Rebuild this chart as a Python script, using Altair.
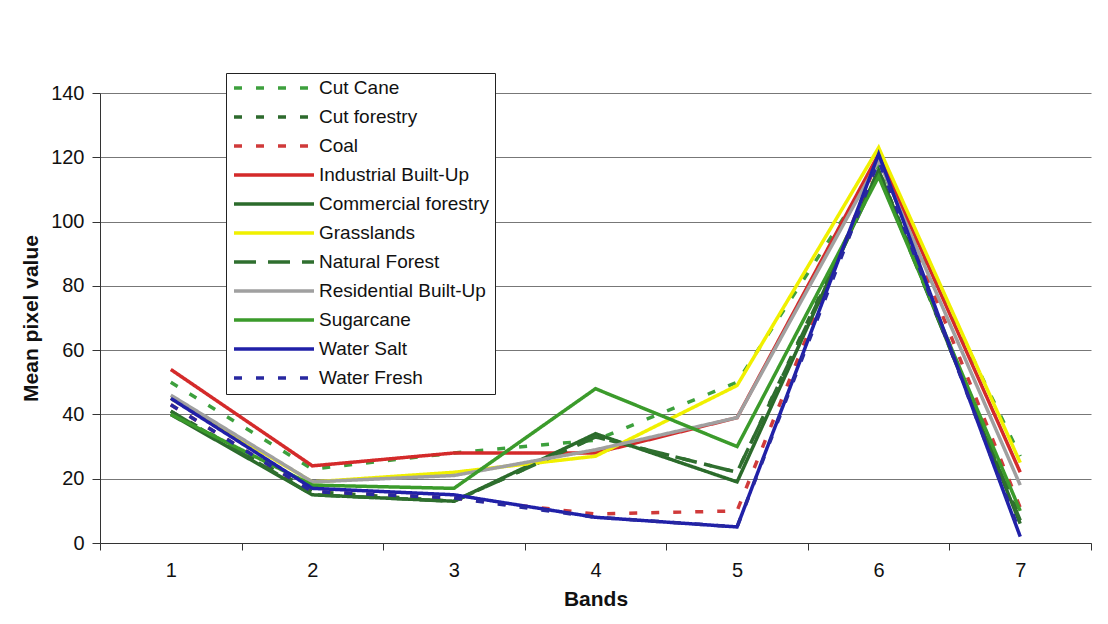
import altair as alt
import pandas as pd

bands = [1, 2, 3, 4, 5, 6, 7]
series = ["Cut Cane", "Cut forestry", "Coal", "Industrial Built-Up", "Commercial forestry",
          "Grasslands", "Natural Forest", "Residential Built-Up", "Sugarcane", "Water Salt", "Water Fresh"]

cut_cane = [50, 23, 28, 32, 50, 118, 27]
cut_forestry = [41, 16, 13, 33, 22, 116, 8]
coal = [43, 16, 14, 9, 10, 120, 11]
industrial = [54, 24, 28, 28, 39, 121, 22]
commercial = [40, 15, 13, 34, 19, 116, 6]
grasslands = [45, 19, 22, 27, 49, 123, 25]
natural_forest = [41, 15, 13, 33, 22, 115, 7]
residential = [46, 19, 21, 29, 39, 119, 18]
sugarcane = [40, 18, 17, 48, 30, 114, 10]
water_salt = [45, 17, 15, 8, 5, 121, 2]
water_fresh = [43, 16, 14, 8, 5, 119, 3]

values = [cut_cane, cut_forestry, coal, industrial, commercial, grasslands,
          natural_forest, residential, sugarcane, water_salt, water_fresh]

colors = ["#3da03d", "#2d6a2d", "#d03a3a", "#d42a2a", "#2b6b2b", "#f0f000",
          "#2f6f2f", "#a0a0a0", "#3b9b2b", "#2020a8", "#2828a0"]
dashes = [[8, 14], [8, 14], [8, 14], [1, 0], [1, 0], [1, 0],
          [22, 12], [1, 0], [1, 0], [1, 0], [8, 14]]

rows = []
for s, vals in zip(series, values):
    for b, v in zip(bands, vals):
        rows.append({"Band": b, "Series": s, "Value": v})
df = pd.DataFrame(rows)

FONT = "Liberation Sans"

chart = alt.Chart(df).mark_line(strokeWidth=3.5).encode(
    x=alt.X("Band:O",
            bandPosition=0.5,
            scale=alt.Scale(type="band", paddingInner=0, paddingOuter=0),
            axis=alt.Axis(title="Bands", labelAngle=0, tickBand="extent", grid=False,
                          tickSize=7, labelPadding=10, titlePadding=8,
                          domainColor="#333333", tickColor="#333333",
                          labelFontSize=20, titleFontSize=21)),
    y=alt.Y("Value:Q",
            scale=alt.Scale(domain=[0, 140]),
            axis=alt.Axis(title="Mean pixel value", values=[0, 20, 40, 60, 80, 100, 120, 140],
                          tickSize=8, labelPadding=8, titlePadding=9,
                          gridColor="#777777", gridWidth=1,
                          domainColor="#333333", tickColor="#333333",
                          labelFontSize=20, titleFontSize=21)),
    color=alt.Color("Series:N",
                    scale=alt.Scale(domain=series, range=colors),
                    legend=alt.Legend(title=None, orient="none", legendX=126, legendY=-20,
                                      symbolType="stroke", symbolSize=6400, symbolStrokeWidth=3.5,
                                      clipHeight=18, rowPadding=10, labelOffset=3, labelLimit=0,
                                      labelFontSize=19, labelFont=FONT, labelColor="#111111",
                                      strokeColor="#222222", padding=6, fillColor="white")),
    strokeDash=alt.StrokeDash("Series:N", scale=alt.Scale(domain=series, range=dashes),
                              legend=None),
).properties(
    width=991, height=450,
    autosize=alt.AutoSizeParams(type="none"),
    padding={"left": 92, "top": 85, "right": 9, "bottom": 70},
).configure_view(stroke=None).configure_axis(
    labelFont=FONT, titleFont=FONT, labelColor="#111111", titleColor="#111111",
    titleFontWeight="bold"
)

chart.save("out.html", embed_options={"renderer": "svg", "actions": False})
